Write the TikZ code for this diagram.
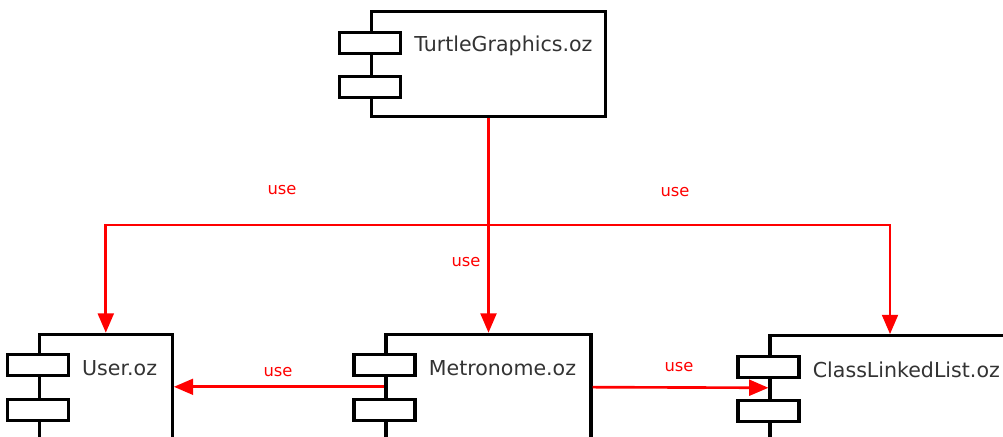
\documentclass[tikz,border=0pt]{standalone}
\usepackage{fontspec}
\setmainfont{DejaVu Sans}
\usetikzlibrary{positioning,arrows.meta}
\begin{document}
\begin{tikzpicture}[x=0.02cm,y=-0.02cm,
			component/.style={draw, line width=1.8pt, minimum height=2.1cm, inner sep=0pt},
			comptab/.style={draw, fill=white, line width=1.8pt, minimum width=1.22cm, minimum height=0.42cm, inner sep=0pt},
			compname/.style={inner sep=0pt, yshift=-1.7pt, text=black!80, font=\fontsize{11.7}{13}\selectfont},
			usearrow/.style={draw=red, line width=1.5pt, -{Triangle[length=11pt,width=9pt]}},
			uselabel/.style={text=red, font=\fontsize{9.3}{11}\selectfont}
					]
			\useasboundingbox (0,0) rectangle (1003,436);
			\clip (0,0) rectangle (1003,436);
			\def\tabgap{0.41cm}
			\def\namegap{0.24cm}
			% components
			\node[component, minimum width=4.68cm, minimum height=2.09cm] (turtle) at (488.5,63.85) {};
			\node[component, minimum width=2.66cm] (user) at (105.8,386.8) {};
			\node[component, minimum width=4.1cm] (metro) at (488.5,386.8) {};
			\node[component, minimum width=4.8cm] (cll) at (890,388.2) {};
			\foreach \comp/\name in {turtle/TurtleGraphics.oz, user/User.oz, metro/Metronome.oz, cll/ClassLinkedList.oz}{
				\node[comptab, below=\tabgap of \comp.north west] (\comp tab1) {};
				\node[comptab, below=\tabgap of \comp tab1] (\comp tab2) {};
				\node[compname, right=\namegap of \comp tab1] (\comp name) {\name};
			}
			% dependencies
			\coordinate (fork) at (488.5,225);
			\draw[usearrow] (turtle) -- (metro);
			\draw[usearrow] (fork) -| (user);
			\draw[usearrow] (fork) -| (cll);
			\draw[usearrow] (metro) -- (user);
			\draw[usearrow] (metro) -- (cll);
			\node[uselabel] (use user) at (282,190) {use};
			\node[uselabel] (use cll) at (675,192) {use};
			\node[uselabel] (use metro) at (466,262) {use};
			\node[uselabel] (use left) at (278,372) {use};
			\node[uselabel] (use right) at (679,367) {use};
		\end{tikzpicture}
\end{document}
